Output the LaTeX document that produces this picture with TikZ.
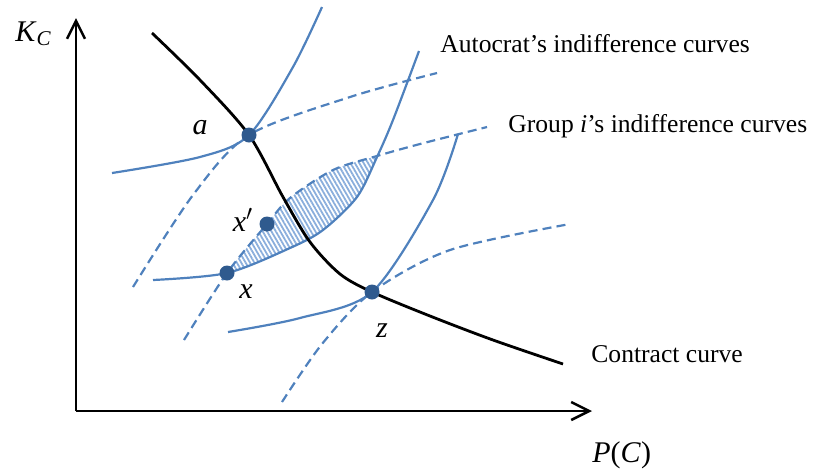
\documentclass[tikz,border=0pt]{standalone}
\usepackage{fontspec}
\setmainfont{Liberation Serif}
\usetikzlibrary{arrows.meta,patterns.meta}
\definecolor{icBlue}{HTML}{4F81BD}
\definecolor{icDot}{HTML}{2F5A8E}
\definecolor{icHatch}{HTML}{8AAEDC}
\tikzset{
  ic axis/.style={draw=black, line width=1.25pt, -{Straight Barb[length=9pt,width=9pt]}},
  ic contract/.style={draw=black, line width=1.4pt},
  ic autocrat/.style={draw=icBlue, line width=1.1pt},
  ic group/.style={draw=icBlue, line width=1.1pt, dash pattern=on 4.5pt off 2.6pt},
  ic dot/.style={circle, fill=icDot, minimum size=7.5pt, inner sep=0pt},
  ic label/.style={font=\fontsize{15}{17}\selectfont\itshape, inner sep=0pt},
  ic text/.style={font=\fontsize{12.8}{15}\selectfont, anchor=base west, inner sep=0pt},
}

\begin{document}
\begin{tikzpicture}[x=0.5pt, y=-0.5pt]
  \useasboundingbox (0,0) rectangle (819,468);
  % Axes
  \coordinate (O) at (76,411);
  \coordinate (ytop) at (76,18);
  \coordinate (xend) at (592,411);
  \draw[ic axis] (O) -- (ytop);
  \draw[ic axis] (O) -- (xend);
  \node[anchor=base west, inner sep=0pt, font=\fontsize{15}{17}\selectfont] (kc) at (15,41) {\textit{K}\textsubscript{\textit{C}}};
  \node[anchor=base west, inner sep=0pt, font=\fontsize{15}{17}\selectfont] (pc) at (592,462) {\textit{P}(\textit{C})};
  % Shaded lens between the two curves through x
  \begin{scope}
    \clip plot[smooth] coordinates {(184,340) (227,273) (267,224) (290,198) (333,170) (377,156) (420,144) (487,127)} -- (487,468) -- (184,468) -- cycle;
    \clip plot[smooth] coordinates {(153,280) (227,273) (290,248) (323,230) (357,197) (377,157) (393,120) (419,51)} -- (419,0) -- (0,0) -- (0,280) -- cycle;
    \fill[pattern={Lines[angle=120,distance=1.9pt,line width=0.9pt]}, pattern color=icHatch] (0,0) rectangle (819,468);
  \end{scope}
  % Autocrat's indifference curves
  \draw[ic autocrat] plot[smooth] coordinates {(112,173) (200,157) (249,135) (293,67) (322,7)};
  \draw[ic autocrat] plot[smooth] coordinates {(153,280) (227,273) (290,248) (323,230) (357,197) (377,157) (393,120) (419,51)};
  \draw[ic autocrat] plot[smooth] coordinates {(228,332) (300,318) (372,292) (433,200) (458,134)};
  % Group i's indifference curves
  \draw[ic group] plot[smooth] coordinates {(133,287) (193,195) (249,135) (350,97) (437,73)};
  \draw[ic group] plot[smooth] coordinates {(184,340) (227,273) (267,224) (290,198) (333,170) (377,156) (420,144) (487,127)};
  \draw[ic group] plot[smooth] coordinates {(282,402) (322,344) (372,292) (450,250) (570,224)};
  % Contract curve
  \draw[ic contract] plot[smooth] coordinates {(152,33) (200,80) (249,135) (283,197) (310,242) (340,274) (372,292) (430,316) (493,340) (563,364)};
  % Points
  \node[ic dot] (a) at (249,135) {};
  \node[ic dot] (xp) at (267,224) {};
  \node[ic dot] (x) at (227,273) {};
  \node[ic dot] (z) at (372,292) {};
  \node[ic label] (a lbl) at (200,128) {a};
  \node[ic label] (xp lbl) at (243,220) {x$'$};
  \node[ic label] (x lbl) at (246,292) {x};
  \node[ic label] (z lbl) at (382,331) {z};
  % Legends
  \node[ic text] (auto txt) at (440,52) {Autocrat's indifference curves};
  \node[ic text] (group txt) at (508,132) {Group \textit{i}'s indifference curves};
  \node[ic text] (contract txt) at (591,362) {Contract curve};
\end{tikzpicture}
\end{document}
